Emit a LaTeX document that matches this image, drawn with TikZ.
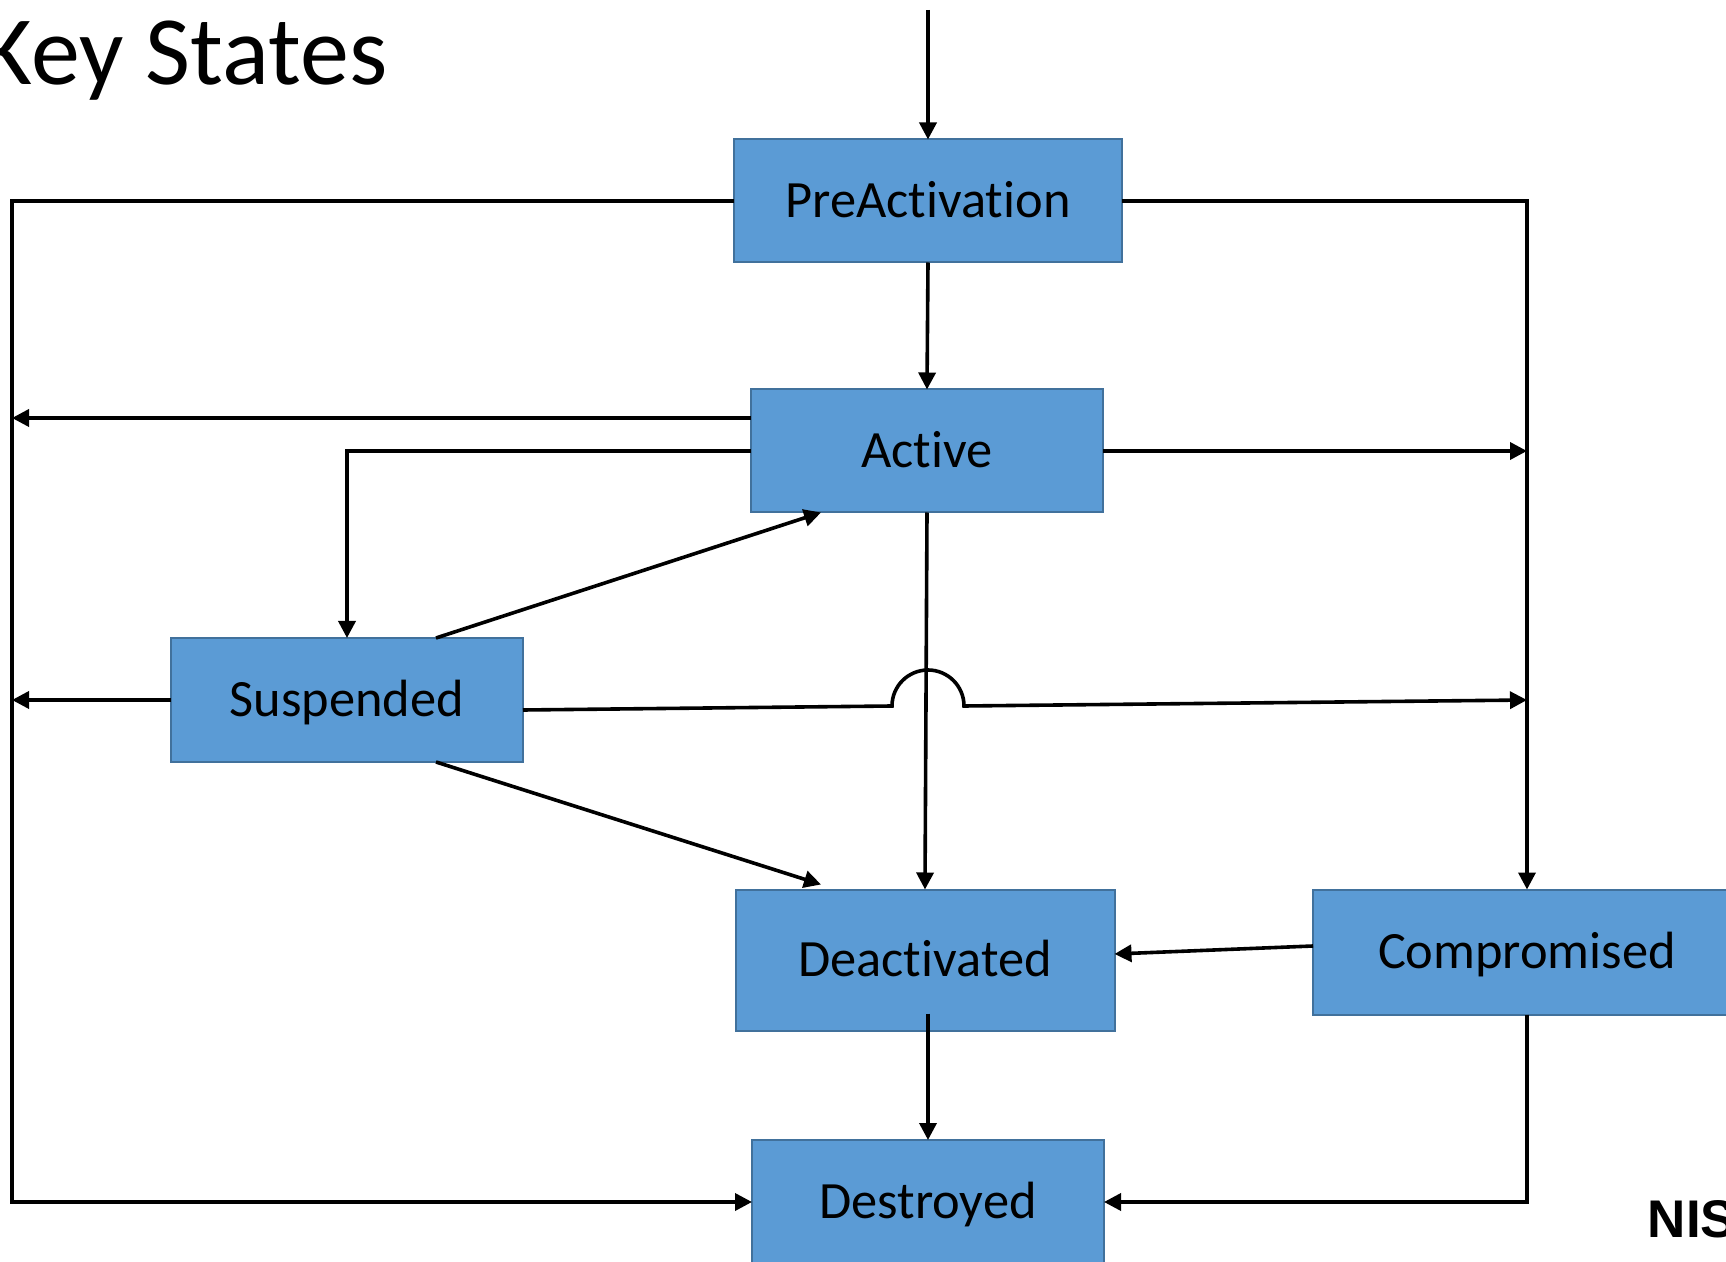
\documentclass[tikz,border=0pt]{standalone}
\usepackage{fontspec}
\setmainfont{Carlito}[Ligatures=NoCommon]
\newfontfamily\nistfont{Liberation Sans}
\usepackage{xcolor}
\usepackage{tikz}
\usetikzlibrary{arrows.meta,calc,positioning}
\definecolor{boxblue}{HTML}{5B9BD5}
\definecolor{boxedge}{HTML}{41719C}
\begin{document}
\begin{tikzpicture}[x=0.5pt,y=-0.5pt,line width=1.8pt,
    state/.style={draw=boxedge,line width=1pt,fill=boxblue,inner sep=0pt,outer sep=0pt,
      minimum height=61.5pt,text height=16.9pt,text depth=0pt,
      font=\fontsize{26.2pt}{30pt}\selectfont},
    link/.style={-{Triangle[length=8.5pt,width=8.5pt]}}]
    \useasboundingbox (0,0) rectangle (1726,1262);
    \clip (0,0) rectangle (1726,1262);
    \node[anchor=base east,inner sep=0pt,font=\fontsize{49pt}{55pt}\selectfont] (title) at (389,85) {Key States};
    \node[anchor=base west,inner sep=0pt,font=\nistfont\bfseries\fontsize{26.5pt}{30pt}\selectfont] (nist) at (1646,1237) {NIST};
    \node[state,minimum width=194pt] (pre) at (928,201) {PreActivation};
    \node[state,minimum width=176pt] (act) at (927,451) {Active};
    \node[state,minimum width=176pt,minimum height=62pt] (sus) at (347,700) {Suspended};
    \node[state,minimum width=189.5pt,minimum height=70.5pt] (deact) at (925,960) {Deactivated};
    \node[state,minimum width=214pt,minimum height=62.5pt] (comp) at (1527,952) {Compromised};
    \node[state,minimum width=176pt,minimum height=62pt] (dest) at (928,1202) {Destroyed};
    \coordinate (start) at (928,10);
    \coordinate (lbus) at (12,0);
    \coordinate (rbus) at (1527,0);
    \coordinate (hop) at (892,706);
    \draw[link] (start) -- (pre.north);
    \draw[link] (pre.south) -- (act.north);
    \draw[link] (pre.west) -- (pre.west -| lbus) -- (dest.west -| lbus) -- (dest.west);
    \draw[link] (pre.east) -- (pre.east -| rbus) -- (comp.north);
    \draw[link] ([yshift=16.5pt]act.west) -- ([yshift=16.5pt]act.west -| lbus);
    \draw[link] (act.west) -- (act.west -| sus.north) -- (sus.north);
    \draw[link] (act.east) -- (act.east -| rbus);
    \draw[link] ([xshift=44.5pt]sus.north) -- ([xshift=-53pt]act.south);
    \draw[link] (act.south) -- (deact.north);
    \draw[link] (sus.west) -- (sus.west -| lbus);
    \draw[link] ([yshift=-5pt]sus.east) -- (hop) arc[start angle=180,end angle=0,radius=18pt] -- (sus.east -| rbus);
    \draw[link] ([xshift=44.5pt]sus.south) -- ([xshift=-52pt,yshift=2.5pt]deact.north);
    \draw[link] ([yshift=3pt]comp.west) -- ([yshift=3pt]deact.east);
    \draw[link] ([xshift=1.5pt,yshift=8.5pt]deact.south) -- (dest.north);
    \draw[link] (comp.south) -- (comp.south |- dest.east) -- (dest.east);
  \end{tikzpicture}
\end{document}
